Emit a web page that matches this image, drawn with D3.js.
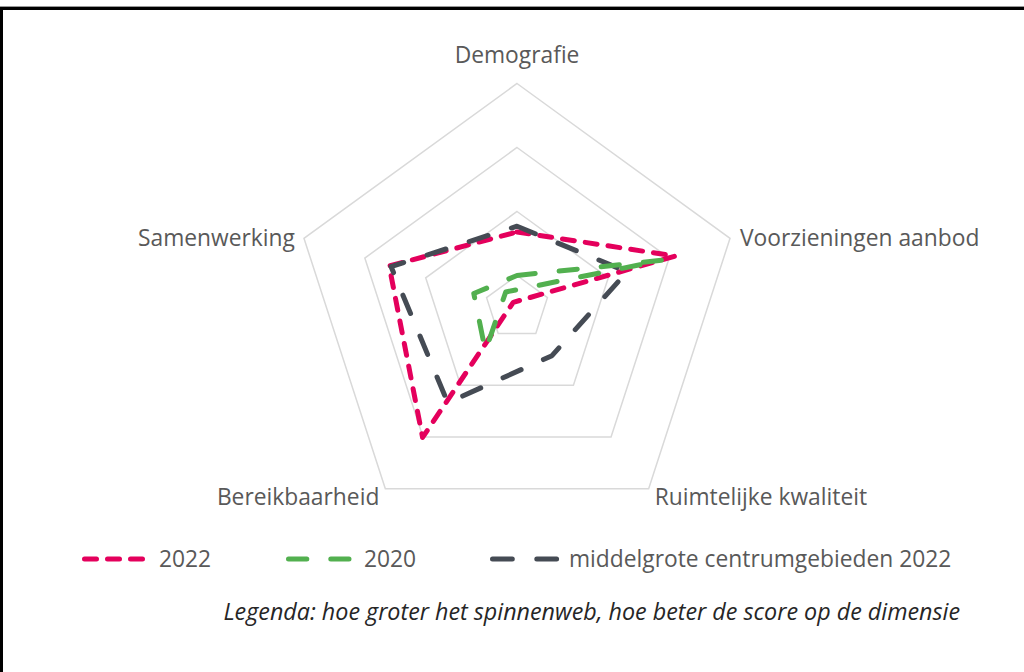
<!DOCTYPE html>
<html>
<head>
<meta charset="utf-8">
<script src="https://cdn.jsdelivr.net/npm/d3@7"></script>
<style>
  body { margin: 0; background: #fff; }
  svg { display: block; font-family: "Open Sans", "Noto Sans", sans-serif; }
</style>
</head>
<body>
<div id="chart"></div>
<script>
const dimensions = ["Demografie", "Voorzieningen aanbod", "Ruimtelijke kwaliteit", "Bereikbaarheid", "Samenwerking"];
const score2022 = [0.68, 2.1, -0.6, 2.01, 1.6];
const score2020 = [0.0, 1.89, -0.8, 0.34, 0.21];
const scoreMiddel = [0.77, 1.31, 0.43, 1.34, 1.57];
const ringValues = [0, 1, 2, 3];
const seriesNames = ["2022", "2020", "middelgrote centrumgebieden 2022"];
const note = "Legenda: hoe groter het spinnenweb, hoe beter de score op de dimensie";

const width = 1024, height = 672;
const cx = 517, cy = 307.5, R = 224;

const svg = d3.select("#chart").append("svg")
  .attr("width", width)
  .attr("height", height);

// frame (top + left edge as in the screenshot)
svg.append("line").attr("x1", 0).attr("x2", width).attr("y1", 6.5).attr("y2", 6.5)
  .attr("stroke", "#999").attr("stroke-width", 1);
svg.append("line").attr("x1", 0).attr("x2", width).attr("y1", 8.5).attr("y2", 8.5)
  .attr("stroke", "#000").attr("stroke-width", 3);
svg.append("line").attr("x1", 1.5).attr("x2", 1.5).attr("y1", 7).attr("y2", height)
  .attr("stroke", "#000").attr("stroke-width", 3);

// radial scale, not clamped: values under the minimum go through the centre
const r = d3.scaleLinear().domain([-0.5, 3]).range([0, R]);
const angle = d3.scalePoint().domain(d3.range(dimensions.length)).range([0, 2 * Math.PI * (dimensions.length - 1) / dimensions.length]);

const g = svg.append("g").attr("transform", `translate(${cx},${cy})`);

// grid rings
const ring = d3.lineRadial()
  .angle((d, i) => angle(i))
  .radius(d => r(d))
  .curve(d3.curveLinearClosed);

g.selectAll(".ring")
  .data(ringValues)
  .join("path")
  .attr("class", "ring")
  .attr("d", v => ring(dimensions.map(() => v)))
  .attr("fill", "none")
  .attr("stroke", "#d9d9d9")
  .attr("stroke-width", 1.5);

// axis labels
const labelColor = "#595959";
g.selectAll(".axis-label")
  .data(dimensions)
  .join("text")
  .attr("class", "axis-label")
  .each(function(d, i) {
    const a = angle(i);
    const x = r(3) * Math.sin(a), y = -r(3) * Math.cos(a);
    const t = d3.select(this);
    if (i === 0) {
      t.attr("x", x).attr("y", y - 21).attr("text-anchor", "middle");
    } else if (i === 1 || i === 4) {
      t.attr("x", x + (i === 1 ? 10 : -9)).attr("y", y).attr("dy", "0.35em")
        .attr("text-anchor", i === 1 ? "start" : "end");
    } else {
      t.attr("x", x + (i === 2 ? 6 : -6)).attr("y", y + 8).attr("dy", "0.35em")
        .attr("text-anchor", i === 2 ? "start" : "end");
    }
  })
  .attr("font-size", 22.8)
  .attr("fill", labelColor)
  .text(d => d);

// series
const series = [
  {name: seriesNames[0], values: score2022, color: "#e4005c", dash: "12,11"},
  {name: seriesNames[2], values: scoreMiddel, color: "#454b54", dash: "19.8,24.5"},
  {name: seriesNames[1], values: score2020, color: "#52b04f", dash: "18.3,24"}
];

const radarLine = d3.lineRadial()
  .angle((d, i) => angle(i))
  .radius(d => r(d))
  .curve(d3.curveLinearClosed);

g.selectAll(".series")
  .data(series)
  .join("path")
  .attr("class", "series")
  .attr("d", d => radarLine(d.values))
  .attr("fill", "none")
  .attr("stroke", d => d.color)
  .attr("stroke-width", 5)
  .attr("stroke-dasharray", d => d.dash)
  .attr("stroke-linecap", "round")
  .attr("stroke-linejoin", "round");

// legend
const legendItems = [
  {name: seriesNames[0], color: "#e4005c", dash: "12,11", x1: 84.5, x2: 145.5, tx: 159},
  {name: seriesNames[1], color: "#52b04f", dash: "18.3,24", x1: 288.5, x2: 349, tx: 364},
  {name: seriesNames[2], color: "#454b54", dash: "19.8,24.5", x1: 492.5, x2: 556.6, tx: 569}
];
const legend = svg.append("g").attr("transform", "translate(0,559)");
legend.selectAll("line")
  .data(legendItems)
  .join("line")
  .attr("x1", d => d.x1).attr("x2", d => d.x2)
  .attr("y1", 0).attr("y2", 0)
  .attr("stroke", d => d.color)
  .attr("stroke-width", 5)
  .attr("stroke-linecap", "round")
  .attr("stroke-dasharray", d => d.dash);
legend.selectAll("text")
  .data(legendItems)
  .join("text")
  .attr("x", d => d.tx)
  .attr("y", 0)
  .attr("dy", "0.35em")
  .attr("font-size", 22.8)
  .attr("fill", labelColor)
  .text(d => d.name);

svg.append("text")
  .attr("x", 960)
  .attr("y", 620)
  .attr("text-anchor", "end")
  .attr("font-size", 23.3)
  .attr("font-style", "italic")
  .attr("fill", "#262626")
  .text(note);
</script>
</body>
</html>
